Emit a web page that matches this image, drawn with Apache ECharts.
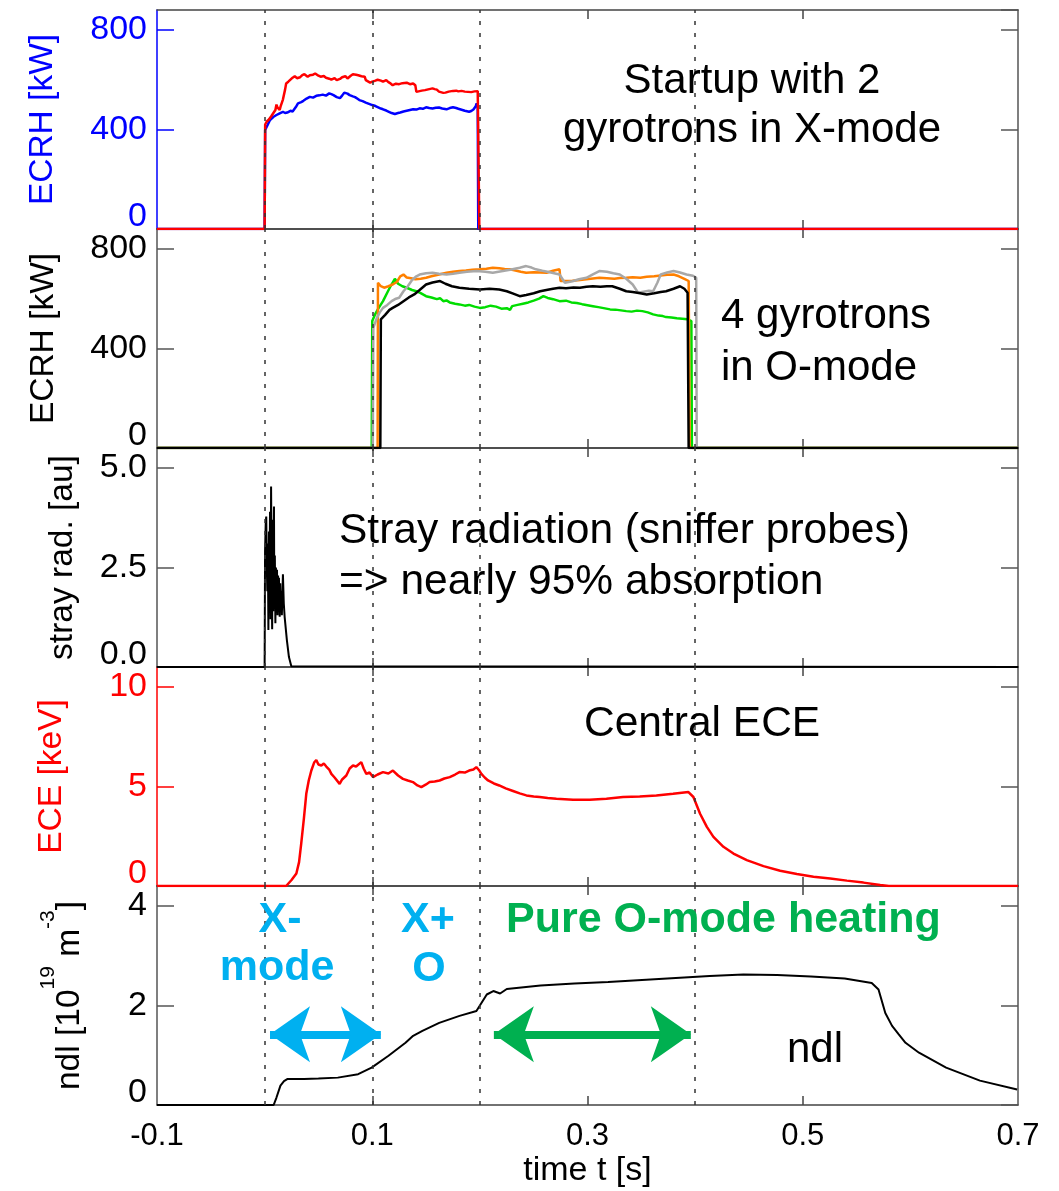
<!DOCTYPE html>
<html><head><meta charset="utf-8">
<script src="https://cdn.jsdelivr.net/npm/echarts@6/dist/echarts.min.js"></script>
<style>html,body{margin:0;padding:0;background:#fff}#c{width:1059px;height:1191px}</style>
</head><body><div id="c"></div>
<script>
// ---------------- data ----------------
const xTickLabels = [-0.1, 0.1, 0.3, 0.5, 0.7];
const xTickMarks = [0.1, 0.3, 0.5];
const phaseLines = [0, 0.1, 0.2, 0.395];

// Panel 1: ECRH X-mode gyrotrons [kW]
const ecrhXRed = [[-0.1,0],[0.0,0],[0.0005,420],[0.002,432],[0.004,440],[0.006,452],[0.008,465],[0.01,478],[0.011,500],[0.012,488],[0.014,478],[0.015,495],[0.017,520],[0.019,560],[0.02,585],[0.022,592],[0.024,600],[0.026,608],[0.028,614],[0.03,606],[0.033,610],[0.035,618],[0.037,622],[0.04,612],[0.042,618],[0.045,620],[0.047,625],[0.05,616],[0.052,612],[0.055,615],[0.057,608],[0.06,604],[0.062,600],[0.065,606],[0.067,598],[0.07,603],[0.072,610],[0.075,614],[0.077,605],[0.08,616],[0.082,622],[0.085,620],[0.087,618],[0.09,614],[0.093,612],[0.094,598],[0.095,590],[0.098,588],[0.1,592],[0.103,596],[0.105,600],[0.108,596],[0.11,592],[0.113,598],[0.115,590],[0.117,585],[0.119,578],[0.122,584],[0.125,582],[0.128,586],[0.132,588],[0.135,582],[0.138,585],[0.14,578],[0.141,551],[0.143,553],[0.146,556],[0.149,558],[0.151,560],[0.154,563],[0.156,565],[0.158,562],[0.16,560],[0.162,552],[0.163,545],[0.166,547],[0.168,548],[0.171,552],[0.175,555],[0.178,556],[0.18,553],[0.183,555],[0.186,552],[0.189,551],[0.192,550],[0.195,553],[0.198,554],[0.199,550],[0.1995,0],[0.7,0]];
const ecrhXBlue = [[-0.1,0],[0,0],[0.0005,398],[0.003,420],[0.005,438],[0.008,450],[0.011,458],[0.014,465],[0.017,471],[0.019,466],[0.021,468],[0.024,475],[0.026,472],[0.029,490],[0.031,505],[0.034,510],[0.036,515],[0.039,524],[0.042,531],[0.045,528],[0.048,535],[0.051,537],[0.054,540],[0.057,536],[0.06,545],[0.062,542],[0.064,538],[0.067,530],[0.07,526],[0.072,536],[0.074,548],[0.077,544],[0.079,538],[0.082,533],[0.084,530],[0.086,524],[0.088,518],[0.091,514],[0.094,508],[0.097,503],[0.1,498],[0.103,494],[0.105,490],[0.108,484],[0.11,481],[0.113,476],[0.115,472],[0.118,466],[0.121,462],[0.124,466],[0.126,468],[0.129,472],[0.132,475],[0.135,478],[0.138,481],[0.141,480],[0.144,485],[0.147,483],[0.15,489],[0.153,486],[0.156,484],[0.159,487],[0.162,488],[0.165,484],[0.169,481],[0.172,486],[0.175,489],[0.178,486],[0.18,483],[0.183,479],[0.186,475],[0.188,473],[0.19,471],[0.192,474],[0.194,480],[0.196,492],[0.197,505],[0.198,490],[0.1985,0],[0.7,0]];

// Panel 2: ECRH O-mode gyrotrons [kW]
const ecrhOGreen = [[-0.1,0],[0.0995,0],[0.1,510],[0.103,540],[0.106,563],[0.11,590],[0.114,625],[0.117,650],[0.119,665],[0.121,680],[0.124,660],[0.128,650],[0.132,644],[0.137,635],[0.141,630],[0.145,622],[0.15,610],[0.155,605],[0.16,598],[0.163,602],[0.166,590],[0.169,593],[0.172,585],[0.177,580],[0.181,577],[0.186,572],[0.19,575],[0.195,568],[0.2,563],[0.205,566],[0.21,572],[0.215,568],[0.22,560],[0.225,562],[0.228,555],[0.23,570],[0.235,575],[0.24,580],[0.245,585],[0.25,592],[0.255,600],[0.259,610],[0.263,603],[0.268,598],[0.274,590],[0.28,592],[0.285,585],[0.29,583],[0.295,578],[0.3,574],[0.305,570],[0.31,566],[0.315,562],[0.321,557],[0.326,556],[0.331,553],[0.336,550],[0.341,548],[0.346,552],[0.351,550],[0.356,545],[0.361,537],[0.366,532],[0.37,530],[0.373,526],[0.378,524],[0.383,521],[0.388,519],[0.393,517],[0.3965,510],[0.397,0],[0.7,0]];
const ecrhOOrange = [[-0.1,0],[0.105,0],[0.1053,664],[0.108,650],[0.111,644],[0.115,650],[0.119,657],[0.123,668],[0.126,690],[0.129,697],[0.132,685],[0.136,682],[0.14,678],[0.145,680],[0.15,684],[0.155,690],[0.16,695],[0.165,700],[0.169,704],[0.175,708],[0.181,711],[0.187,713],[0.193,716],[0.2,718],[0.206,720],[0.212,724],[0.218,722],[0.223,719],[0.228,718],[0.233,713],[0.238,708],[0.243,704],[0.25,706],[0.256,705],[0.262,704],[0.268,712],[0.274,718],[0.275,671],[0.28,671],[0.286,672],[0.293,675],[0.299,678],[0.305,681],[0.311,684],[0.318,682],[0.325,680],[0.33,683],[0.336,684],[0.342,686],[0.349,684],[0.355,688],[0.362,690],[0.368,693],[0.374,696],[0.38,697],[0.385,690],[0.39,680],[0.394,671],[0.395,0],[0.7,0]];
const ecrhOGray = [[-0.1,0],[0.1005,0],[0.101,483],[0.104,520],[0.107,545],[0.11,563],[0.114,575],[0.118,590],[0.122,600],[0.125,604],[0.129,630],[0.133,650],[0.137,675],[0.141,690],[0.144,697],[0.15,702],[0.156,704],[0.162,700],[0.169,697],[0.175,700],[0.181,704],[0.188,708],[0.197,711],[0.205,708],[0.212,704],[0.22,710],[0.228,716],[0.237,724],[0.243,731],[0.248,725],[0.252,718],[0.258,712],[0.265,706],[0.274,697],[0.279,664],[0.286,670],[0.292,678],[0.299,684],[0.305,698],[0.311,711],[0.318,708],[0.324,702],[0.33,697],[0.336,680],[0.342,657],[0.347,624],[0.352,628],[0.357,632],[0.361,630],[0.365,665],[0.368,697],[0.374,705],[0.38,711],[0.386,705],[0.392,697],[0.398,692],[0.401,684],[0.4015,0],[0.7,0]];
const ecrhOBlack = [[-0.1,0],[0.1075,0],[0.108,517],[0.112,535],[0.116,555],[0.119,563],[0.124,575],[0.129,590],[0.134,605],[0.139,617],[0.144,635],[0.15,657],[0.156,665],[0.163,671],[0.168,660],[0.174,650],[0.181,644],[0.19,640],[0.2,637],[0.209,640],[0.218,637],[0.225,630],[0.231,620],[0.237,610],[0.243,615],[0.25,622],[0.256,630],[0.263,636],[0.268,640],[0.274,644],[0.28,642],[0.287,645],[0.293,644],[0.299,648],[0.305,650],[0.312,648],[0.318,650],[0.323,650],[0.33,640],[0.336,630],[0.342,627],[0.349,622],[0.355,617],[0.362,622],[0.368,627],[0.373,630],[0.38,640],[0.386,650],[0.39,640],[0.393,624],[0.394,0],[0.7,0]];

// Panel 3: stray radiation [au]
const strayRad = [[-0.1,0],[0,0],[0.0004,2.9],[0.001,3.6],[0.0015,3.78],[0.002,2.6],[0.0025,1.9],[0.003,3.1],[0.0035,0.93],[0.004,3.4],[0.0045,2.0],[0.005,3.9],[0.0055,1.2],[0.006,4.53],[0.0065,2.4],[0.007,0.95],[0.0075,3.7],[0.008,1.4],[0.0087,4.03],[0.009,1.6],[0.0095,2.8],[0.01,1.1],[0.0105,2.5],[0.011,1.68],[0.0115,2.44],[0.012,1.3],[0.0125,2.3],[0.013,1.5],[0.0133,2.24],[0.014,1.26],[0.0145,2.1],[0.015,1.4],[0.0155,1.9],[0.016,1.3],[0.017,2.33],[0.0178,1.6],[0.0186,1.26],[0.0207,0.67],[0.0226,0.25],[0.0248,0.02],[0.7,0]];

// Panel 4: central ECE [keV]
const eceCentral = [[-0.1,0],[0.02,0],[0.025,0.3],[0.0295,0.63],[0.032,1.2],[0.034,2.13],[0.0365,3.4],[0.0387,4.63],[0.041,5.3],[0.0434,5.8],[0.046,6.2],[0.048,6.33],[0.05,6.1],[0.0527,6.05],[0.055,6.15],[0.0573,6.0],[0.06,5.85],[0.062,5.63],[0.065,5.45],[0.0697,5.13],[0.072,5.35],[0.0759,5.55],[0.079,5.9],[0.0821,6.05],[0.085,6.0],[0.0898,6.22],[0.092,5.9],[0.0945,5.63],[0.0975,5.7],[0.1007,5.47],[0.105,5.6],[0.11,5.72],[0.115,5.65],[0.1192,5.8],[0.124,5.55],[0.1285,5.38],[0.133,5.3],[0.1378,5.22],[0.142,5.05],[0.1456,4.97],[0.15,5.1],[0.1533,5.22],[0.158,5.25],[0.1626,5.3],[0.167,5.4],[0.172,5.47],[0.177,5.6],[0.181,5.72],[0.186,5.7],[0.19,5.8],[0.194,5.85],[0.1967,5.97],[0.1995,5.8],[0.2014,5.63],[0.2045,5.45],[0.2076,5.3],[0.213,5.15],[0.218,5.05],[0.224,4.9],[0.2308,4.77],[0.237,4.65],[0.2432,4.55],[0.25,4.5],[0.2556,4.47],[0.263,4.42],[0.2711,4.38],[0.2866,4.33],[0.302,4.33],[0.3176,4.38],[0.333,4.47],[0.3485,4.5],[0.364,4.55],[0.3795,4.63],[0.3938,4.72],[0.3984,4.47],[0.4046,3.63],[0.4109,2.97],[0.417,2.47],[0.4263,1.97],[0.4356,1.63],[0.448,1.3],[0.4635,1.0],[0.479,0.77],[0.4945,0.6],[0.51,0.47],[0.5255,0.38],[0.541,0.27],[0.5564,0.17],[0.572,0.05],[0.58,0],[0.7,0]];

// Panel 5: line density ndl [1e19 m^-3]
const ndl = [[-0.1,0],[0.0084,0],[0.011,0.15],[0.0147,0.39],[0.018,0.48],[0.021,0.52],[0.0367,0.52],[0.05,0.53],[0.068,0.55],[0.0869,0.62],[0.0994,0.75],[0.1151,0.99],[0.1309,1.25],[0.138,1.39],[0.1466,1.49],[0.1622,1.65],[0.1811,1.79],[0.1968,1.89],[0.2,2.0],[0.2064,2.22],[0.2125,2.29],[0.2188,2.24],[0.225,2.33],[0.2564,2.4],[0.2878,2.44],[0.3192,2.47],[0.3506,2.51],[0.382,2.55],[0.4135,2.59],[0.4448,2.62],[0.4762,2.61],[0.5076,2.58],[0.539,2.54],[0.5641,2.45],[0.5704,2.32],[0.5767,1.85],[0.583,1.59],[0.5892,1.42],[0.5955,1.25],[0.608,1.05],[0.6332,0.75],[0.6646,0.49],[0.6992,0.31]];

// annotation arrows (time start, time end, level)
const arrowXMode = [0.005, 0.108, 1.42];
const arrowOMode = [0.213, 0.396, 1.42];

// ---------------- chart ----------------
const FONT = '"Liberation Sans", Arial, Helvetica, sans-serif';
const tops = [10, 229, 448, 667, 886];
const H = 219;
const panels = [
  {name:'ECRH [kW]', max:880, interval:400, color:'#0000FF', axis:'#0000FF', gap:97, fmt:v=>String(v)},
  {name:'ECRH [kW]', max:880, interval:400, color:'#000000', axis:'#555555', gap:96, fmt:v=>String(v)},
  {name:'stray rad. [au]', max:5.5, interval:2.5, color:'#000000', axis:'#555555', gap:77, fmt:v=>v.toFixed(1)},
  {name:'ECE [keV]', max:11, interval:5, color:'#FF0000', axis:'#FF0000', gap:88, fmt:v=>String(v)},
  {name:'{a|ndl [10}{s|19}{a| m}{s|-3}{a|]}', max:4.4, interval:2, color:'#000000', axis:'#555555', gap:70, fmt:v=>String(v), rich:true}
];
const TICKFS = 34, NAMEFS = 33.5;

const grid = tops.map(t => ({left:157, right:41, top:t, height:H, containLabel:false}));
const xAxis = [], yAxis = [];
panels.forEach((p, i) => {
  const last = i === panels.length - 1;
  xAxis.push({
    gridIndex:i, type:'value', min:-0.1, max:0.7, position:'bottom',
    axisLine:{show:true, onZero:false, lineStyle:{color:'#444', width:1.5}},
    axisTick:{show:true, inside:true, length:9, customValues:xTickMarks, lineStyle:{color:'#444', width:1.5}},
    axisLabel:{show:last, customValues:xTickLabels, formatter:v=>Number(v).toFixed(1), fontSize:31, fontFamily:FONT, color:'#000', margin:16},
    splitLine:{show:false},
    name: last ? 'time t [s]' : '', nameLocation:'middle', nameGap:49,
    nameTextStyle:{fontSize:34, fontFamily:FONT, color:'#000'}
  });
  xAxis.push({
    gridIndex:i, type:'value', min:-0.1, max:0.7, position:'top',
    axisLine:{show:true, onZero:false, lineStyle:{color:'#444', width:1.5}},
    axisTick:{show:true, inside:true, length:9, customValues:xTickMarks, lineStyle:{color:'#444', width:1.5}},
    axisLabel:{show:false}, splitLine:{show:false}
  });
  const nameStyle = p.rich ? {
      rich:{
        a:{fontSize:NAMEFS, fontFamily:FONT, color:p.color, lineHeight:33, verticalAlign:'bottom'},
        s:{fontSize:21, fontFamily:FONT, color:p.color, lineHeight:21, padding:[0,0,28,0], verticalAlign:'bottom'}
      }
    } : {fontSize:NAMEFS, fontFamily:FONT, color:p.color};
  yAxis.push({
    gridIndex:i, type:'value', min:0, max:p.max, interval:p.interval, position:'left',
    axisLine:{show:true, onZero:false, lineStyle:{color:p.axis, width:1.5}},
    axisTick:{show:true, inside:true, length:17, lineStyle:{color:p.axis, width:1.5}},
    axisLabel:{
      color:p.color, fontSize:TICKFS, fontFamily:FONT, margin:10, showMaxLabel:false,
      formatter:v => v === 0 ? '{b|' + p.fmt(v) + '}' : p.fmt(v),
      rich:{b:{fontSize:TICKFS, fontFamily:FONT, color:p.color, padding:[0,0,24,0]}}
    },
    splitLine:{show:false},
    name:p.name, nameLocation:'middle', nameGap:p.gap, nameRotate:90,
    nameTextStyle:nameStyle
  });
  yAxis.push({
    gridIndex:i, type:'value', min:0, max:p.max, interval:p.interval, position:'right',
    axisLine:{show:true, onZero:false, lineStyle:{color:'#555', width:1.5}},
    axisTick:{show:true, inside:true, length:17, lineStyle:{color:'#555', width:1.5}},
    axisLabel:{show:false}, splitLine:{show:false}
  });
});

const phaseMarkLine = {
  silent:true, symbol:'none', label:{show:false},
  lineStyle:{color:'#333', width:1.5, type:[4,8]},
  data: phaseLines.map(v => ({xAxis:v}))
};

function line(data, gi, color, width, extra) {
  return Object.assign({
    type:'line', data, xAxisIndex:gi*2, yAxisIndex:gi*2, showSymbol:false, symbol:'none',
    lineStyle:{color, width}, itemStyle:{color}, animation:false, z:3
  }, extra || {});
}

function arrowLine(a, color) {
  return [{coord:[a[0], a[2]], lineStyle:{color, width:8, type:'solid'}}, {coord:[a[1], a[2]]}];
}

const series = [
  line(ecrhXBlue, 0, '#0000FF', 2.5, {markLine:phaseMarkLine}),
  line(ecrhXRed, 0, '#FF0000', 2.5),
  line(ecrhOGreen, 1, '#00DD00', 2.5, {markLine:phaseMarkLine}),
  line(ecrhOOrange, 1, '#FF8000', 2.5),
  line(ecrhOGray, 1, '#A8A8A8', 2.5),
  line(ecrhOBlack, 1, '#000000', 2.5),
  line(strayRad, 2, '#000000', 2, {markLine:phaseMarkLine}),
  line(eceCentral, 3, '#FF0000', 2.5, {markLine:phaseMarkLine}),
  line(ndl, 4, '#000000', 2, {markLine:phaseMarkLine}),
  line([[arrowXMode[0], arrowXMode[2]], [arrowXMode[1], arrowXMode[2]]], 4, '#00B0F0', 0, {
    lineStyle:{opacity:0}, z:4,
    markLine:{silent:true, symbol:['arrow','arrow'], symbolSize:[42,40], label:{show:false},
      data:[arrowLine(arrowXMode, '#00B0F0'), arrowLine(arrowOMode, '#00B050')]}
  })
];

function txt(text, x, y, size, color, align, bold) {
  return {type:'text', x, y, z:100, style:{text, fill:color, font:(bold?'bold ':'') + size + 'px ' + FONT, align, verticalAlign:'middle'}};
}

const graphic = [
  txt('Startup with 2', 752, 81, 42, '#000', 'center'),
  txt('gyrotrons in X-mode', 752, 130, 42, '#000', 'center'),
  txt('4 gyrotrons', 721, 316, 42, '#000', 'left'),
  txt('in O-mode', 721, 368, 42, '#000', 'left'),
  txt('Stray radiation (sniffer probes)', 339, 531, 42.5, '#000', 'left'),
  txt('=> nearly 95% absorption', 339, 582, 42.5, '#000', 'left'),
  txt('Central ECE', 584, 724, 42.5, '#000', 'left'),
  txt('ndl', 815, 1050, 42, '#000', 'center'),
  txt('X-', 280, 920, 43, '#00B0F0', 'center', true),
  txt('mode', 277, 968, 43, '#00B0F0', 'center', true),
  txt('X+', 428, 920, 43, '#00B0F0', 'center', true),
  txt('O', 429, 969, 43, '#00B0F0', 'center', true),
  txt('Pure O-mode heating', 506, 920, 43, '#00B050', 'left', true)
];

const chart = echarts.init(document.getElementById('c'), null, {renderer:'canvas'});
chart.setOption({
  animation:false, backgroundColor:'#ffffff',
  grid, xAxis, yAxis, series, graphic
});
</script>
</body></html>
